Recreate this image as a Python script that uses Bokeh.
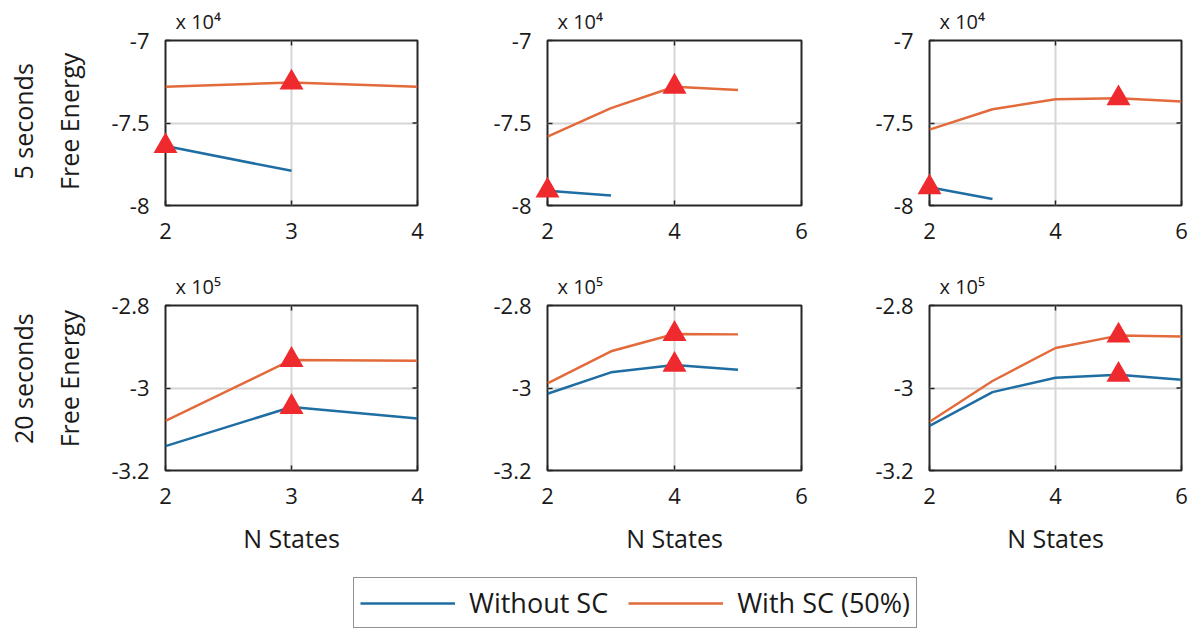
import math
import numpy as np
from bokeh.plotting import figure
from bokeh.layouts import column, row
from bokeh.models import Range1d, FixedTicker, Label
from bokeh.embed import file_html
from bokeh.resources import INLINE

FONT = "Open Sans"
BLUE = "#1f6ea3"
ORANGE = "#e26a3b"
RED = "#ee2a2f"
INK = "#1a1a1a"
GRID = "#d6d6d6"
FRAME = "#262626"

# ---- 5 second recordings: free energy vs number of states ----
n5_without = [2, 3]
fe5_without_a = [-76400, -77900]
fe5_without_b = [-79100, -79400]
fe5_without_c = [-78900, -79600]

n5_with_a = [2, 3, 4]
fe5_with_a = [-72800, -72550, -72800]
n5_with_b = [2, 3, 4, 5]
fe5_with_b = [-75830, -74100, -72800, -73000]
n5_with_c = [2, 3, 4, 5, 6]
fe5_with_c = [-75400, -74170, -73560, -73500, -73700]

# ---- 20 second recordings ----
n20_a = [2, 3, 4]
n20_b = [2, 3, 4, 5]
n20_c = [2, 3, 4, 5, 6]
fe20_without_a = [-314100, -304600, -307400]
fe20_with_a = [-308000, -293200, -293400]
fe20_without_b = [-301400, -296200, -294400, -295600]
fe20_with_b = [-298900, -291100, -286900, -287000]
fe20_without_c = [-309200, -301000, -297500, -296800, -298000]
fe20_with_c = [-308200, -298300, -290300, -287300, -287500]

x_ticks_small = [2, 3, 4]
x_ticks_large = [2, 4, 6]
y_ticks_5s = [-80000, -75000, -70000]
y_labels_5s = ["-8", "-7.5", "-7"]
y_ticks_20s = [-320000, -300000, -280000]
y_labels_20s = ["-3.2", "-3", "-2.8"]

col_widths = [382, 384, 333]
col_left = [65, 65, 63]
col_right = [65, 65, 18]


def panel(col, height, top, bottom, xs_wo, ys_wo, xs_wi, ys_wi, xticks,
          yticks, ylabels, mult, show_xlabel):
    p = figure(width=col_widths[col], height=height,
               x_range=Range1d(xticks[0], xticks[-1]),
               y_range=Range1d(yticks[0], yticks[-1]),
               output_backend="svg", toolbar_location=None,
               min_border_left=col_left[col], min_border_right=col_right[col],
               min_border_top=top, min_border_bottom=bottom,
               title=mult)
    p.title.align = "left"
    p.title.offset = 10
    p.title.standoff = 11
    p.title.text_font = FONT
    p.title.text_font_size = "20px"
    p.title.text_font_style = "normal"
    p.title.text_color = INK

    p.outline_line_color = FRAME
    p.outline_line_width = 2
    p.background_fill_color = "white"
    p.border_fill_color = "white"

    p.xgrid.ticker = FixedTicker(ticks=xticks[1:-1])
    p.ygrid.ticker = FixedTicker(ticks=yticks[1:-1])
    for g in (p.xgrid, p.ygrid):
        g.grid_line_color = GRID
        g.grid_line_width = 2

    p.xaxis.ticker = FixedTicker(ticks=xticks)
    p.yaxis.ticker = FixedTicker(ticks=yticks)
    p.yaxis.major_label_overrides = dict(zip(yticks, ylabels))
    for ax in (p.xaxis, p.yaxis):
        ax.axis_line_color = None
        ax.major_tick_in = 5
        ax.major_tick_out = 0
        ax.major_tick_line_color = FRAME
        ax.major_tick_line_width = 1.5
        ax.minor_tick_line_color = None
        ax.major_label_text_font = FONT
        ax.major_label_text_font_size = "22px"
        ax.major_label_text_color = INK
    p.xaxis.major_label_standoff = 17
    p.yaxis.major_label_standoff = 16
    if show_xlabel:
        p.xaxis.axis_label = "N States"
        p.xaxis.axis_label_text_font = FONT
        p.xaxis.axis_label_text_font_size = "25px"
        p.xaxis.axis_label_text_font_style = "normal"
        p.xaxis.axis_label_text_color = INK
        p.xaxis.axis_label_standoff = 14

    # inward tick marks on the top and right edges (half of each dash is
    # clipped away by the frame)
    inner_x = xticks[1:-1]
    inner_y = yticks[1:-1]
    p.scatter(inner_x, [yticks[-1]] * len(inner_x), marker="dash",
              angle=math.pi / 2, size=10, line_color=FRAME, line_width=1.5)
    p.scatter([xticks[-1]] * len(inner_y), inner_y, marker="dash",
              size=10, line_color=FRAME, line_width=1.5)

    p.line(xs_wo, ys_wo, line_color=BLUE, line_width=2.5)
    p.line(xs_wi, ys_wi, line_color=ORANGE, line_width=2.5)

    # best model (highest free energy) of each series
    for xs, ys in ((xs_wo, ys_wo), (xs_wi, ys_wi)):
        k = int(np.argmax(ys))
        p.scatter([xs[k]], [ys[k]], marker="triangle", size=24,
                  fill_color=RED, line_color=None, level="overlay")
    return p


def side_label(height, frame_center, lines):
    f = figure(width=100, height=height, x_range=Range1d(0, 100),
               y_range=Range1d(0, height), output_backend="svg",
               toolbar_location=None, min_border=0,
               x_axis_location=None, y_axis_location=None)
    f.outline_line_color = None
    f.xgrid.visible = False
    f.ygrid.visible = False
    for xpos, txt in zip((22, 68), lines):
        f.add_layout(Label(x=xpos, y=height - frame_center, text=txt,
                           angle=math.pi / 2, text_align="center",
                           text_baseline="middle", text_font=FONT,
                           text_font_size="25px", text_color=INK))
    return f


H1, T1, B1 = 250, 40, 45
H2, T2, B2 = 310, 55, 90

p11 = panel(0, H1, T1, B1, n5_without, fe5_without_a, n5_with_a, fe5_with_a,
            x_ticks_small, y_ticks_5s, y_labels_5s, "x 10⁴", False)
p12 = panel(1, H1, T1, B1, n5_without, fe5_without_b, n5_with_b, fe5_with_b,
            x_ticks_large, y_ticks_5s, y_labels_5s, "x 10⁴", False)
p13 = panel(2, H1, T1, B1, n5_without, fe5_without_c, n5_with_c, fe5_with_c,
            x_ticks_large, y_ticks_5s, y_labels_5s, "x 10⁴", False)

p21 = panel(0, H2, T2, B2, n20_a, fe20_without_a, n20_a, fe20_with_a,
            x_ticks_small, y_ticks_20s, y_labels_20s, "x 10⁵", True)
p22 = panel(1, H2, T2, B2, n20_b, fe20_without_b, n20_b, fe20_with_b,
            x_ticks_large, y_ticks_20s, y_labels_20s, "x 10⁵", True)
p23 = panel(2, H2, T2, B2, n20_c, fe20_without_c, n20_c, fe20_with_c,
            x_ticks_large, y_ticks_20s, y_labels_20s, "x 10⁵", True)

lab1 = side_label(H1, T1 + (H1 - T1 - B1) / 2, ["5 seconds", "Free Energy"])
lab2 = side_label(H2, T2 + (H2 - T2 - B2) / 2, ["20 seconds", "Free Energy"])

# shared legend strip; the sample lines sit outside the visible range
leg = figure(width=1199, height=73, x_range=Range1d(0, 1), y_range=Range1d(0, 1),
             output_backend="svg", toolbar_location=None, min_border=0,
             x_axis_location=None, y_axis_location=None)
leg.outline_line_color = None
leg.xgrid.visible = False
leg.ygrid.visible = False
leg.line([-5, -4], [-5, -4], line_color=BLUE, line_width=2.5,
         legend_label="Without SC")
leg.line([-5, -4], [-5, -4], line_color=ORANGE, line_width=2.5,
         legend_label="With SC (50%)")
lg = leg.legend[0]
lg.orientation = "horizontal"
lg.location = (353, 5)
lg.border_line_color = FRAME
lg.border_line_width = 1.5
lg.background_fill_alpha = 1
lg.padding = 6
lg.margin = 0
lg.spacing = 20
lg.glyph_width = 95
lg.glyph_height = 20
lg.label_standoff = 14
lg.label_text_font = FONT
lg.label_text_font_size = "27px"
lg.label_text_color = INK

layout = column(row(lab1, p11, p12, p13), row(lab2, p21, p22, p23), leg)

open("out.html", "w").write(file_html(layout, INLINE))
